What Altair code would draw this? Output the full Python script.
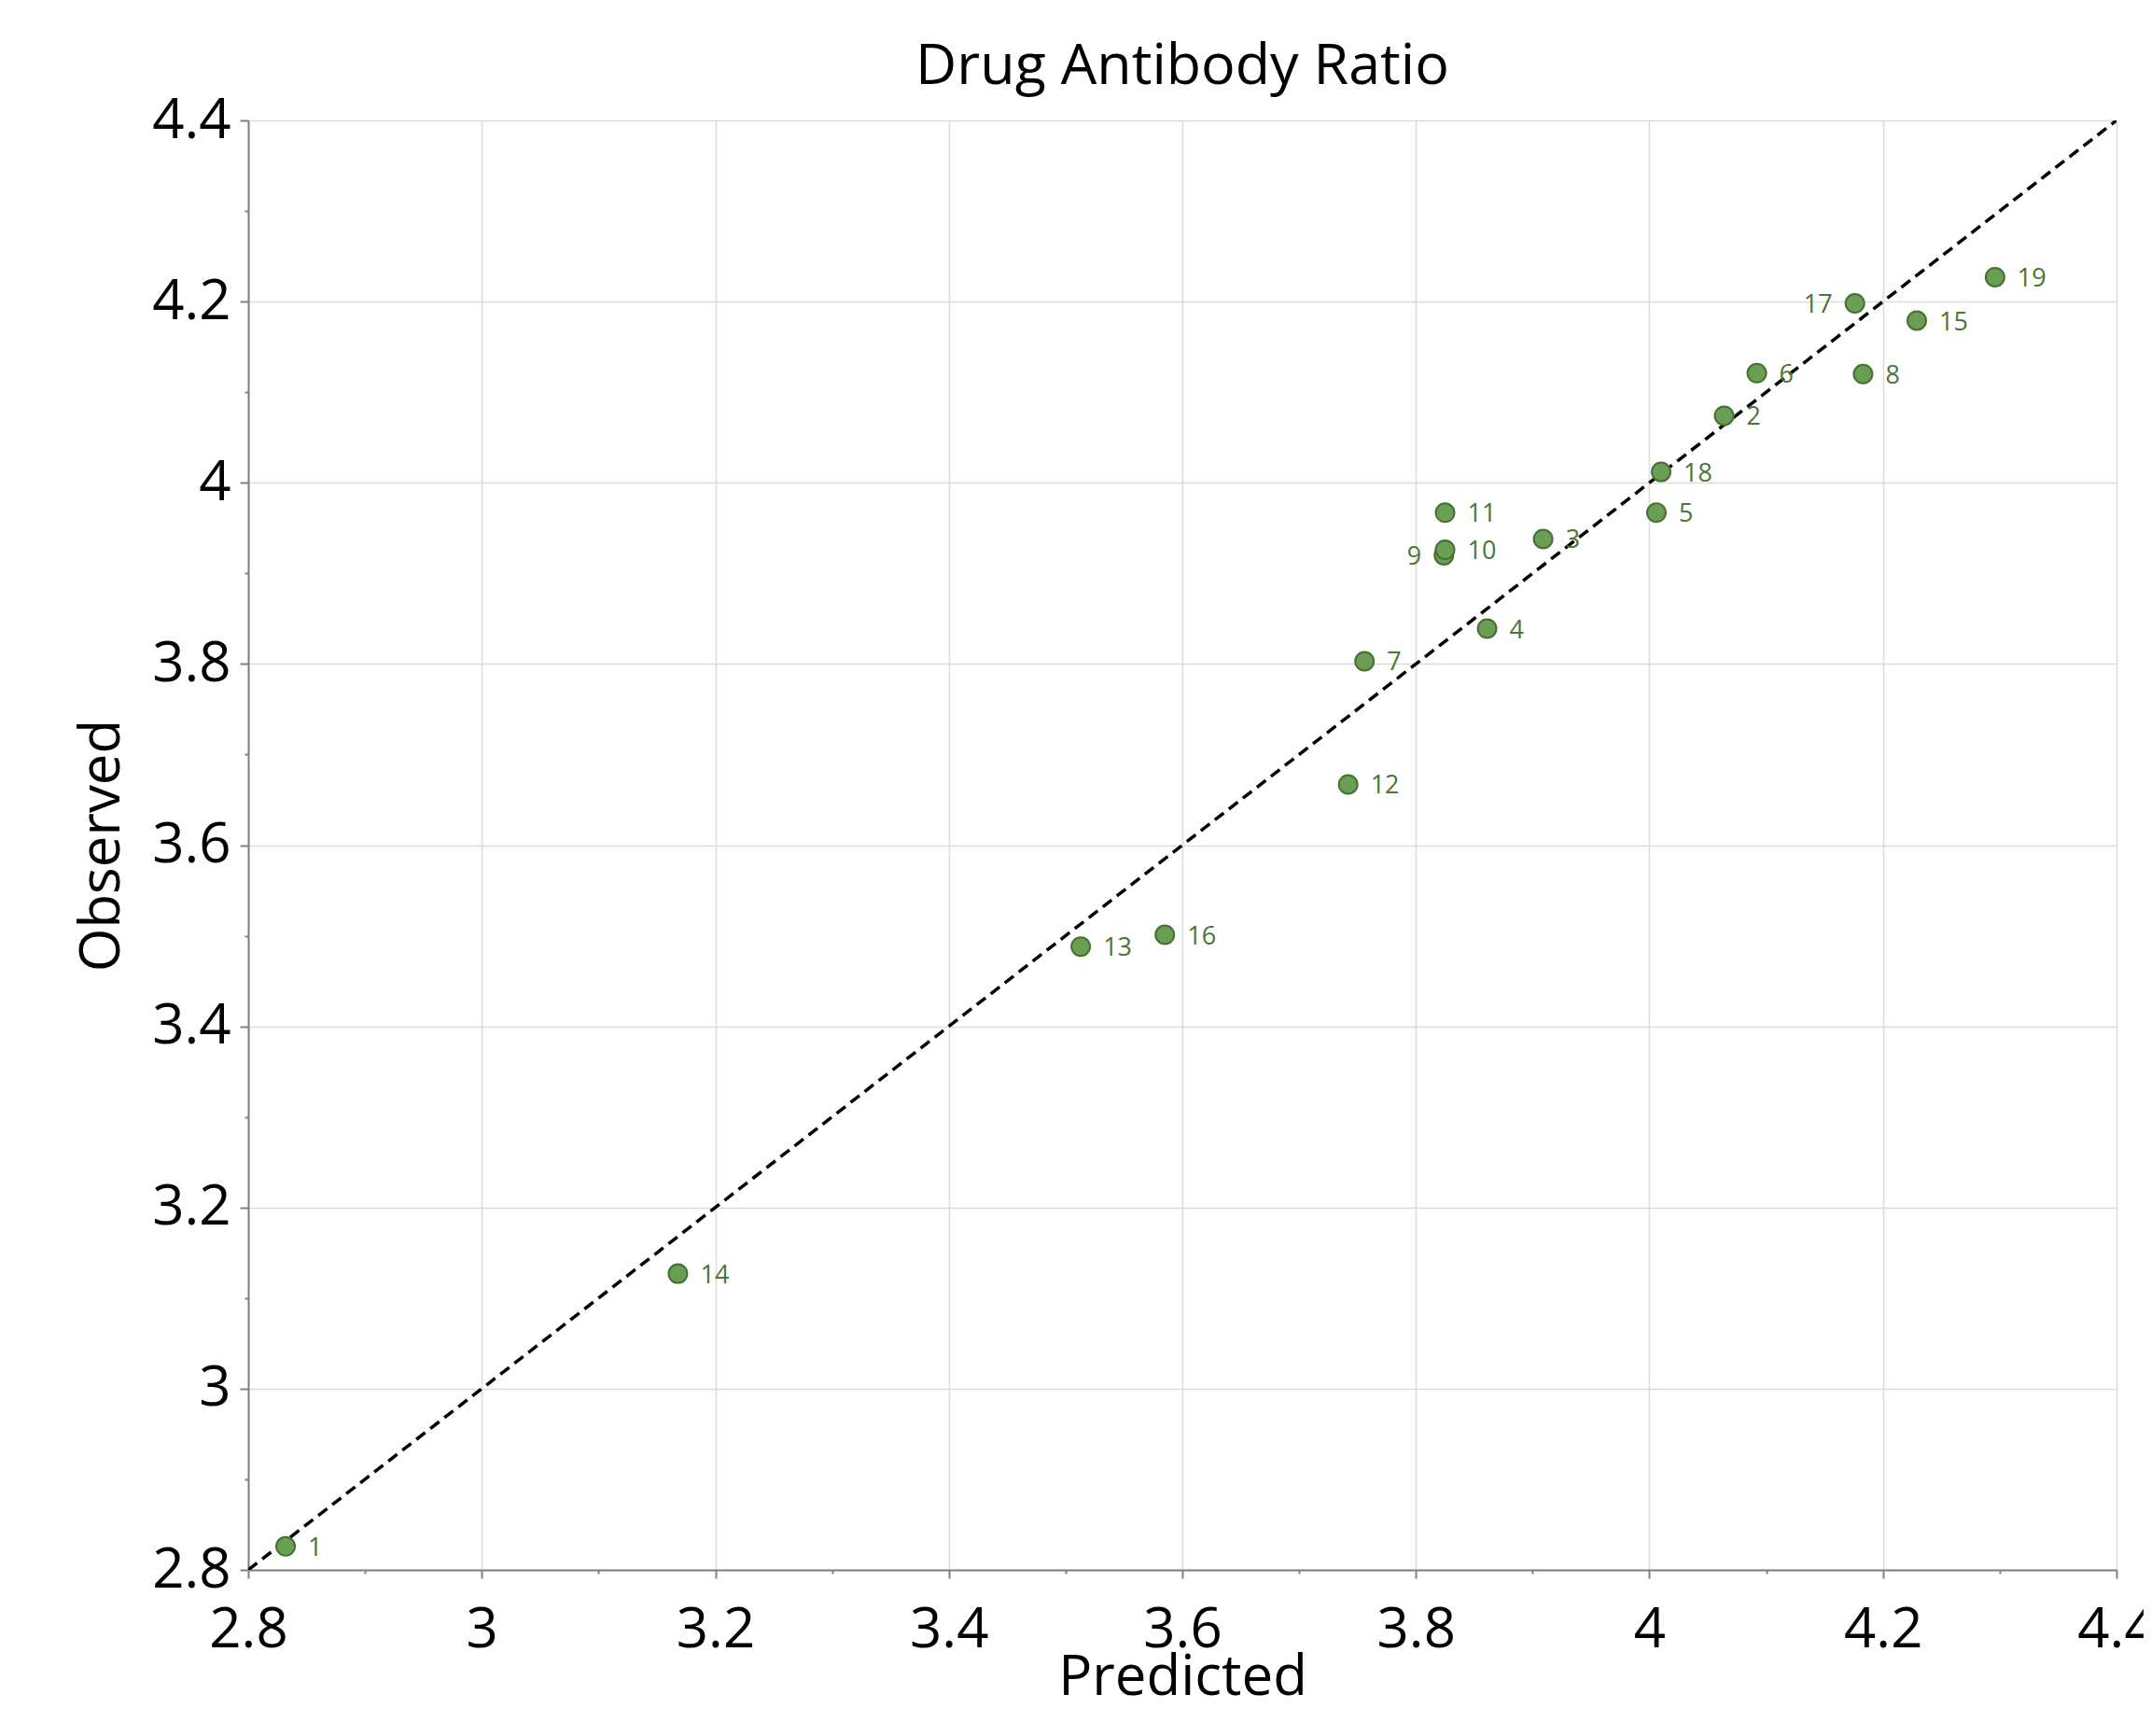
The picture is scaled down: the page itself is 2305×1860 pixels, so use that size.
import altair as alt
import pandas as pd

# Data
ids = ["1", "2", "3", "4", "5", "6", "7", "8", "9", "10",
       "11", "12", "13", "14", "15", "16", "17", "18", "19"]
predicted = [2.832, 4.064, 3.909, 3.861, 4.006, 4.092, 3.756, 4.183, 3.824, 3.825,
             3.825, 3.742, 3.513, 3.168, 4.229, 3.585, 4.176, 4.010, 4.296]
observed = [2.826, 4.074, 3.938, 3.839, 3.967, 4.121, 3.803, 4.120, 3.920, 3.926,
            3.967, 3.667, 3.488, 3.127, 4.179, 3.501, 4.198, 4.012, 4.227]
label_side = ["right"] * 19
label_side[8] = "left"    # point 9
label_side[16] = "left"   # point 17

ticks = [2.8, 2.9, 3.0, 3.1, 3.2, 3.3, 3.4, 3.5, 3.6, 3.7, 3.8, 3.9,
         4.0, 4.1, 4.2, 4.3, 4.4]
domain = [2.8, 4.4]
diag_x = [2.8, 4.4]
diag_y = [2.8, 4.4]

df = pd.DataFrame({"id": ids, "Predicted": predicted, "Observed": observed,
                   "side": label_side})
diag = pd.DataFrame({"Predicted": diag_x, "Observed": diag_y})

FONT = "Open Sans"
minor_test = "round(datum.value*10) % 2 == 1"
label_expr = f"{minor_test} ? '' : toString(round(datum.value*10)/10)"

def make_axis(title, label_pad, title_pad):
    return alt.Axis(
        title=title, values=ticks, labelExpr=label_expr,
        labelFont=FONT, labelFontSize=60, labelColor="black",
        titleFont=FONT, titleFontSize=60, titleFontWeight="normal",
        titleColor="black", titlePadding=title_pad,
        domainColor="#808080", domainWidth=2,
        tickColor="#808080", tickWidth=2,
        tickSize={"condition": {"test": minor_test, "value": 4}, "value": 9},
        gridColor="#dcdcdc", gridWidth=1.5,
        gridOpacity={"condition": {"test": minor_test, "value": 0}, "value": 1},
        labelPadding=label_pad, labelFlush=False, labelOverlap=False,
    )

xenc = alt.X("Predicted:Q", scale=alt.Scale(domain=domain, nice=False, zero=False),
             axis=make_axis("Predicted", 26, -8))
yenc = alt.Y("Observed:Q", scale=alt.Scale(domain=domain, nice=False, zero=False),
             axis=make_axis("Observed", 10, 22))

line = alt.Chart(diag).mark_line(color="black", strokeWidth=3.5,
                                 strokeDash=[12, 7], clip=True).encode(x=xenc, y=yenc)

points = alt.Chart(df).mark_point(filled=True, shape="circle", size=400,
                                  fill="#6a9e55", stroke="#45702f",
                                  strokeWidth=2, opacity=1).encode(x=xenc, y=yenc)

labels_r = alt.Chart(df).transform_filter("datum.side == 'right'").mark_text(
    align="left", baseline="middle", dx=24, dy=2, font=FONT, fontSize=27,
    color="#4b7634").encode(x=xenc, y=yenc, text="id:N")
labels_l = alt.Chart(df).transform_filter("datum.side == 'left'").mark_text(
    align="right", baseline="middle", dx=-24, dy=2, font=FONT, fontSize=27,
    color="#4b7634").encode(x=xenc, y=yenc, text="id:N")

chart = alt.layer(line, points, labels_r, labels_l).properties(
    width=2002, height=1553,
    title=alt.TitleParams("Drug Antibody Ratio", font=FONT, fontSize=61,
                          fontWeight="normal", color="black", anchor="middle",
                          offset=-4),
    autosize=alt.AutoSizeParams(type="none"),
    padding={"left": 258, "top": 121, "right": 29, "bottom": 160},
).configure_view(stroke="#808080", strokeWidth=2).configure(background="white")

chart.save("out.html", embed_options={"renderer": "svg", "actions": False})
